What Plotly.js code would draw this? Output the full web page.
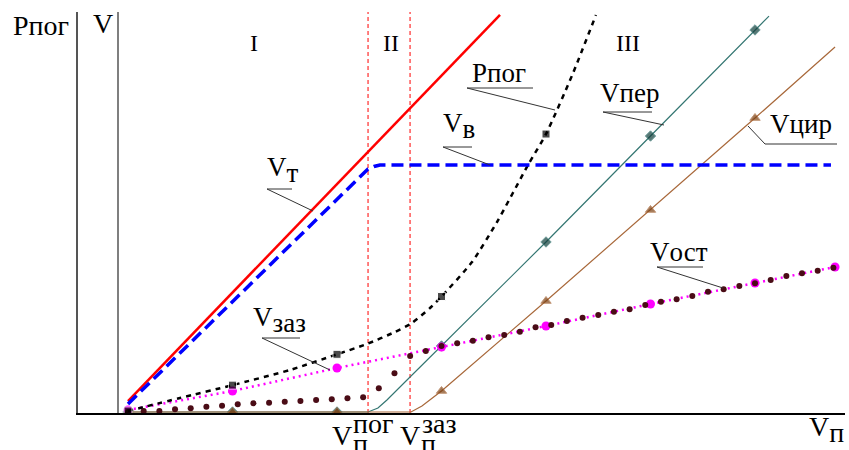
<!DOCTYPE html>
<html>
<head>
<meta charset="utf-8">
<script src="https://cdn.plot.ly/plotly-3.0.1.min.js"></script>
<style>
  body { margin: 0; background: #fff; }
  #chart { width: 849px; height: 450px; }
  /* force the serif face and black ink on every label */
  #chart svg text { font-family: "Liberation Serif", "Times New Roman", serif !important; fill: #000 !important; }
</style>
</head>
<body>
<div id="chart"></div>
<script>
// values, x in units of one marker step
var vtX = [0, 3.56];
var vtY = [0.105, 3.80];

var vvX = [0, 2.297, 2.354, 2.411, 6.727];
var vvY = [0.077, 2.325, 2.349, 2.364, 2.364];

var pPogX = [0, 0.498, 1, 1.55, 2, 2.287, 2.555, 2.718, 2.89, 3, 3.292, 3.531, 3.828, 4, 4.249, 4.478];
var pPogY = [0.010, 0.134, 0.257, 0.402, 0.552, 0.651, 0.766, 0.852, 0.995, 1.105, 1.435, 1.818, 2.364, 2.66, 3.22, 3.799];

var vPerX = [0, 1, 2, 2.297, 2.392, 2.478, 2.670, 3, 4, 5, 6, 6.134];
var vPerY = [0, 0, 0, 0, 0.038, 0.115, 0.306, 0.632, 1.627, 2.641, 3.656, 3.789];

var vCirX = [0, 1, 2, 2.708, 2.813, 3, 4, 5, 6, 6.766];
var vCirY = [0, 0, 0, 0, 0.057, 0.201, 1.062, 1.933, 2.813, 3.493];

var vZazX = [0, 1, 2, 3, 4, 5, 6, 6.766];
var vZazY = [0.019, 0.201, 0.421, 0.622, 0.823, 1.033, 1.234, 1.388];

var vOstX = [0, 0.15, 0.3, 0.45, 0.6, 0.75, 0.9, 1.05, 1.2, 1.35, 1.5, 1.65, 1.8, 1.95, 2.1, 2.25,
  2.4, 2.55, 2.7, 2.85, 3, 3.15, 3.3, 3.45, 3.6, 3.75, 3.9, 4.05, 4.2, 4.35, 4.5, 4.65, 4.8, 4.95,
  5.1, 5.25, 5.4, 5.55, 5.7, 5.85, 6, 6.15, 6.3, 6.45, 6.6, 6.75];
var vOstY = [0, 0.010, 0.010, 0.026, 0.035, 0.051, 0.060, 0.074, 0.083, 0.089, 0.099, 0.105, 0.115, 0.121, 0.131, 0.140,
  0.227, 0.370, 0.536, 0.584, 0.632, 0.657, 0.682, 0.716, 0.737, 0.769, 0.811, 0.833, 0.871, 0.903, 0.928, 0.960, 0.983, 1.024,
  1.055, 1.078, 1.110, 1.151, 1.174, 1.206, 1.231, 1.263, 1.301, 1.327, 1.352, 1.380];

// boundaries of zones I / II / III
var vPogBound = 2.297;
var vZazBound = 2.699;

// picture pixel -> data / paper, only for placing labels and leader lines
var unitPx = 104.5;
function X(px) { return (px - 128) / unitPx; }
function Y(py) { return (412 - py) / unitPx; }
function PX(px) { return (px - 78) / 767; }
function PY(py) { return (413 - py) / 401; }

function markSizes(xs, size) {
  return xs.map(function (v) { return Number.isInteger(v) ? size : 0; });
}

var serif = "Liberation Serif";

var traces = [
  {
    x: vPerX, y: vPerY, mode: "lines+markers", type: "scatter",
    line: { color: "#347672", width: 1.2 },
    marker: { symbol: "diamond", size: markSizes(vPerX, 8), color: "#123f3c" }
  },
  {
    x: vCirX, y: vCirY, mode: "lines+markers", type: "scatter",
    line: { color: "#a8683a", width: 1.2 },
    marker: { symbol: "triangle-up", size: markSizes(vCirX, 9), color: "#7b3f10" }
  },
  {
    x: vZazX, y: vZazY, mode: "lines+markers", type: "scatter",
    line: { color: "#ff00ff", width: 2.5, dash: "2px,4px" },
    marker: { symbol: "circle", size: 9, color: "#ff00ff" }
  },
  {
    x: vOstX, y: vOstY, mode: "markers", type: "scatter",
    marker: { symbol: "circle", size: 6, color: "#4a0c16" }
  },
  {
    x: pPogX, y: pPogY, mode: "lines+markers", type: "scatter",
    line: { color: "#000", width: 2.5, dash: "5px,5px", shape: "spline", smoothing: 0.6 },
    marker: { symbol: "square", size: markSizes(pPogX, 8), color: "#000" }
  },
  {
    x: vtX, y: vtY, mode: "lines", type: "scatter",
    line: { color: "#ff0000", width: 2.5 }
  },
  {
    x: vvX, y: vvY, mode: "lines", type: "scatter",
    line: { color: "#0000ff", width: 3.5, dash: "12px,6px" }
  }
];

function leader(x0, y0, x1, y1, x2, y2) {
  return [
    { type: "line", x0: X(x0), y0: Y(y0), x1: X(x1), y1: Y(y1), line: { color: "#333", width: 1 } },
    { type: "line", x0: X(x1), y0: Y(y1), x1: X(x2), y1: Y(y2), line: { color: "#333", width: 1 } }
  ];
}

var shapes = [
  { type: "line", xref: "x", yref: "paper", x0: vPogBound, x1: vPogBound, y0: 0, y1: 1, layer: "below",
    line: { color: "#ff0000", width: 1, dash: "4px,3px" } },
  { type: "line", xref: "x", yref: "paper", x0: vZazBound, x1: vZazBound, y0: 0, y1: 1, layer: "below",
    line: { color: "#ff0000", width: 1, dash: "4px,3px" } },
  { type: "line", xref: "x", yref: "paper", x0: X(118), x1: X(118), y0: 0, y1: 1,
    line: { color: "#555", width: 1.5 } }
]
  .concat(leader(292, 189, 267, 189, 313, 211))
  .concat(leader(472, 147, 443, 147, 490, 165))
  .concat(leader(533, 88, 467, 88, 555, 110))
  .concat(leader(652, 112, 603, 112, 664, 125))
  .concat(leader(837, 144, 765, 144, 748, 126))
  .concat(leader(300, 338, 262, 338, 330, 370))
  .concat(leader(703, 267, 657, 267, 723, 288));

// text at a left edge and a baseline in picture pixels
function label(text, left, base, size) {
  return {
    text: text, xref: "paper", yref: "paper", x: PX(left - 2.5), y: PY(base + 0.3 * size),
    xanchor: "left", yanchor: "bottom", showarrow: false,
    font: { family: serif, size: size }
  };
}
function zone(text, cx, cy) {
  return {
    text: text, xref: "paper", yref: "paper", x: PX(cx), y: PY(cy),
    xanchor: "center", yanchor: "middle", showarrow: false,
    font: { family: serif, size: 24 }
  };
}
function sub(t, size) {
  return "<sub><span style='font-size:" + size + "px'>" + t + "</span></sub>";
}

var annotations = [
  label("Pпог", 13, 35, 28),
  label("V", 93, 33, 28),
  zone("I", 254, 43),
  zone("II", 391, 43),
  zone("III", 628, 43),
  label("V" + sub("т", 27), 267, 182, 27),
  label("V" + sub("в", 27), 443, 138, 27),
  label("Pпог", 472, 82, 27),
  label("Vпер", 600, 102, 27),
  label("Vцир", 770, 133, 27),
  label("V" + sub("заз", 27), 253, 332, 27),
  label("Vост", 650, 261, 27),
  label("V", 332, 445, 28),
  label("п", 353, 453, 28),
  label("пог", 353, 433, 28),
  label("V", 400, 445, 28),
  label("п", 421, 453, 28),
  label("заз", 422, 433, 28),
  label("V" + sub("п", 28), 809, 442, 28)
];

var layout = {
  width: 849,
  height: 450,
  margin: { l: 78, r: 4, t: 12, b: 37 },
  paper_bgcolor: "#fff",
  plot_bgcolor: "#fff",
  showlegend: false,
  font: { family: serif },
  xaxis: {
    range: [X(78), X(845)],
    showgrid: false, zeroline: false, showticklabels: false, ticks: "",
    showline: true, linecolor: "#000", linewidth: 1.5
  },
  yaxis: {
    range: [Y(413), Y(12)],
    showgrid: false, zeroline: false, showticklabels: false, ticks: "",
    showline: true, linecolor: "#555", linewidth: 2
  },
  shapes: shapes,
  annotations: annotations
};

Plotly.newPlot("chart", traces, layout, { displayModeBar: false, staticPlot: true });
</script>
</body>
</html>
